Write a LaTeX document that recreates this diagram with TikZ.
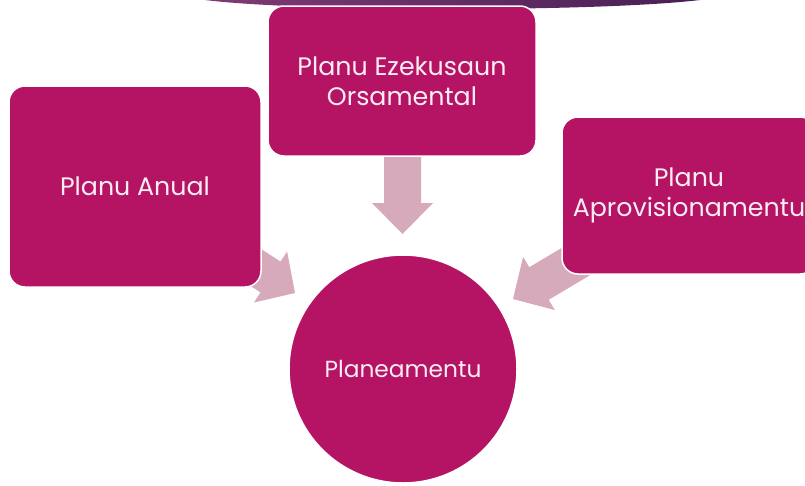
\documentclass[tikz,border=0pt]{standalone}
\usepackage{fontspec}
\setmainfont{Poppins}
\definecolor{boxc}{RGB}{180,20,99}
\definecolor{arrc}{RGB}{214,170,186}
\definecolor{txtc}{RGB}{250,236,243}
\definecolor{arcl}{RGB}{128,58,116}
\definecolor{arcr}{RGB}{72,32,84}
\begin{document}
\begin{tikzpicture}[x=1pt,y=-1pt,
  planbox/.style={rectangle, rounded corners=16pt, fill=boxc, draw=white, line width=1.5pt,
    text=txtc, align=center, font=\fontsize{25.3}{30}\selectfont, inner sep=0pt},
  blockarrow/.style={fill=arrc, draw=none}]
\useasboundingbox (0,0) rectangle (805,485);
\clip (0,0) rectangle (805,485);
% top decorative arc
\shade[left color=arcl, right color=arcr] (205,-5) -- (205,0) .. controls (300,12) and (600,12) .. (700,0) -- (700,-5) -- cycle;
% block arrows (drawn beneath the boxes)
\coordinate (ldown) at (402.5,234);
\coordinate (lleft) at (295,293);
\coordinate (lright) at (513,299);
\fill[blockarrow] (384,150) -- (384,203) -- (372,203) -- (ldown) -- (433,203) -- (421,203) -- (421,150) -- cycle;
\fill[blockarrow] (247,239.8) -- (280.5,261.6) -- (287.1,251.5) -- (lleft) -- (253.9,302.5) -- (260.5,292.4) -- (227,270.6) -- cycle;
\fill[blockarrow] (580.8,236.5) -- (529.3,267.2) -- (523.1,256.9) -- (lright) -- (554.9,310.1) -- (548.7,299.8) -- (600.2,269.1) -- cycle;
% boxes
\node[planbox, minimum width=268pt, minimum height=150pt] (top) at (402,81) {Planu Ezekusaun\\Orsamental};
\node[planbox, minimum width=252pt, minimum height=201pt] (left) at (135,186.5) {Planu Anual};
\node[planbox, minimum width=254pt, minimum height=157pt] (right) at (689,195.5) {Planu\\Aprovisionamentu};
\node[circle, fill=boxc, draw=white, line width=1.5pt, minimum size=228pt, inner sep=0pt,
  text=txtc, font=\fontsize{23.3}{28}\selectfont] (center) at (403,369) {Planeamentu};
\end{tikzpicture}
\end{document}
